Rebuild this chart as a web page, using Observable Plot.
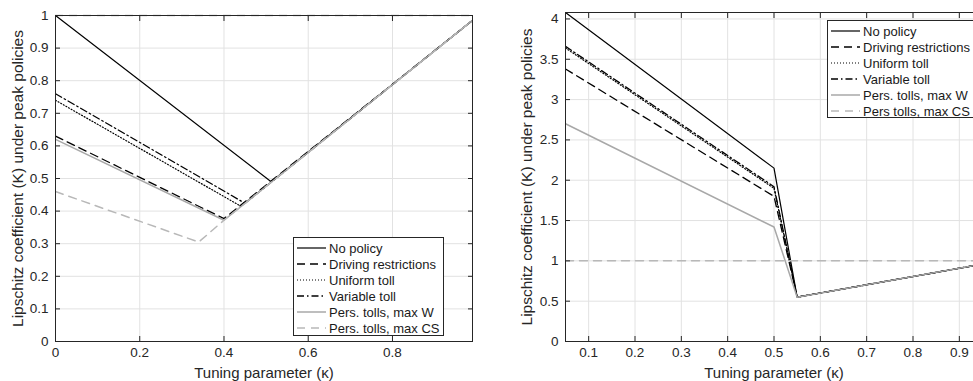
<!DOCTYPE html>
<html><head><meta charset="utf-8">
<script src="https://cdn.jsdelivr.net/npm/d3@7"></script>
<script src="https://cdn.jsdelivr.net/npm/@observablehq/plot@0.6"></script>
<style>
body{margin:0;background:#fff;}
#wrap{position:relative;width:973px;height:381px;overflow:hidden;font-family:"Liberation Sans",Arial,sans-serif;}
.panel{position:absolute;top:0;}
.legend{position:absolute;border:1px solid #262626;background:#fff;box-sizing:border-box;font-size:13px;color:#1a1a1a;padding-top:2px;}
.row{display:flex;align-items:center;height:16px;white-space:nowrap;}
.row svg{margin:0 3px 0 3px;flex:none;}
</style></head><body><div id="wrap"></div>
<script>
// ---------- data ----------
const seriesLeft  = ["No policy","Driving restrictions","Uniform toll","Variable toll","Pers. tolls, max W","Pers. tolls, max CS"];
const seriesRight = ["No policy","Driving restrictions","Uniform toll","Variable toll","Pers. tolls, max W","Pers tolls, max CS"];

// left panel: kappa breakpoints and K values per series
const leftNoPolicyK   = [0, 0.512, 0.99];
const leftNoPolicyV   = [1.0, 0.49, 0.985];
const leftDrivingK    = [0, 0.40, 0.99];
const leftDrivingV    = [0.63, 0.377, 0.985];
const leftUniformK    = [0, 0.44, 0.99];
const leftUniformV    = [0.74, 0.415, 0.985];
const leftVariableK   = [0, 0.45, 0.99];
const leftVariableV   = [0.76, 0.424, 0.985];
const leftMaxWK       = [0, 0.40, 0.99];
const leftMaxWV       = [0.62, 0.372, 0.985];
const leftMaxCSK      = [0, 0.34, 0.40, 0.99];
const leftMaxCSV      = [0.46, 0.305, 0.372, 0.985];
const leftRefK        = [1];

// right panel
const rightNoPolicyK  = [0.05, 0.50, 0.55, 0.95];
const rightNoPolicyV  = [4.08, 2.15, 0.55, 0.96];
const rightDrivingK   = [0.05, 0.50, 0.55, 0.95];
const rightDrivingV   = [3.38, 1.80, 0.55, 0.96];
const rightUniformK   = [0.05, 0.50, 0.55, 0.95];
const rightUniformV   = [3.64, 1.90, 0.55, 0.96];
const rightVariableK  = [0.05, 0.50, 0.55, 0.95];
const rightVariableV  = [3.66, 1.92, 0.55, 0.96];
const rightMaxWK      = [0.05, 0.50, 0.55, 0.95];
const rightMaxWV      = [2.70, 1.42, 0.55, 0.96];
const rightMaxCSK     = [0.05, 0.95];
const rightMaxCSV     = [1.0, 1.0];

// ticks
const leftXTicks  = [0, 0.2, 0.4, 0.6, 0.8];
const leftYTicks  = [0, 0.1, 0.2, 0.3, 0.4, 0.5, 0.6, 0.7, 0.8, 0.9, 1];
const rightXTicks = [0.1, 0.2, 0.3, 0.4, 0.5, 0.6, 0.7, 0.8, 0.9];
const rightYTicks = [0, 0.5, 1, 1.5, 2, 2.5, 3, 3.5, 4];
const xLabel = "Tuning parameter (κ)";
const yLabel = "Lipschitz coefficient (K) under peak policies";

// ---------- styles ----------
const styles = [
  {stroke:"#000", dash:null, w:1.2},
  {stroke:"#000", dash:"8,5", w:1.3},
  {stroke:"#000", dash:"1,2", w:1.2},
  {stroke:"#000", dash:"7,3,1.5,3", w:1.3},
  {stroke:"#a8a8a8", dash:null, w:1.5},
  {stroke:"#b8b8b8", dash:"8,6", w:1.5}
];
const ink = "#262626";

function rows(k, v){ return k.map((x,i)=>({k:x, v:v[i]})); }

const leftData = [
  rows(leftNoPolicyK, leftNoPolicyV), rows(leftDrivingK, leftDrivingV),
  rows(leftUniformK, leftUniformV), rows(leftVariableK, leftVariableV),
  rows(leftMaxWK, leftMaxWV), rows(leftMaxCSK, leftMaxCSV)
];
const rightData = [
  rows(rightNoPolicyK, rightNoPolicyV), rows(rightDrivingK, rightDrivingV),
  rows(rightUniformK, rightUniformV), rows(rightVariableK, rightVariableV),
  rows(rightMaxWK, rightMaxWV), rows(rightMaxCSK, rightMaxCSV)
];

function panel({data, xTicks, yTicks, xDomain, yDomain, width, marginLeft, marginRight, marginTop, extra, ylabDx}) {
  const lines = data.map((d,i)=>Plot.line(d, {x:"k", y:"v", stroke:styles[i].stroke, strokeWidth:styles[i].w,
    strokeDasharray:styles[i].dash ?? undefined, strokeLinejoin:"miter", clip:true}));
  return Plot.plot({
    width, height:381, marginLeft, marginRight, marginTop, marginBottom:40,
    style:{fontFamily:'"Liberation Sans", Arial, sans-serif', fontSize:"13.5px", color:ink, background:"#fff"},
    x:{domain:xDomain, ticks:xTicks},
    y:{domain:yDomain, ticks:yTicks},
    marks:[
      Plot.gridX(xTicks, {stroke:"#e2e2e2", strokeOpacity:1}),
      Plot.gridY(yTicks, {stroke:"#e2e2e2", strokeOpacity:1}),
      ...extra,
      ...lines,
      Plot.frame({stroke:ink, strokeWidth:1}),
      Plot.axisX(xTicks, {anchor:"bottom", tickSize:-5, tickPadding:11, label:null, tickFormat:d=>String(d), stroke:ink}),
      Plot.axisX(xTicks, {anchor:"top", tickSize:-5, label:null, tickFormat:()=>"", stroke:ink}),
      Plot.axisY(yTicks, {anchor:"left", tickSize:-5, tickPadding:12, label:null, tickFormat:d=>String(d), stroke:ink}),
      Plot.axisY(yTicks, {anchor:"right", tickSize:-5, label:null, tickFormat:()=>"", stroke:ink}),
      Plot.text([xLabel], {text:d=>d, frameAnchor:"bottom", dy:32, lineAnchor:"middle", textAnchor:"middle", fontSize:15, fill:ink}),
      Plot.text([yLabel], {text:d=>d, frameAnchor:"left", dx:ylabDx, rotate:-90, lineAnchor:"middle", textAnchor:"middle", fontSize:15.5, fill:ink})
    ]
  });
}

const wrap = document.getElementById("wrap");

const left = panel({data:leftData, xTicks:leftXTicks, yTicks:leftYTicks, xDomain:[0,0.99], yDomain:[0,1],
  width:480, marginLeft:55, marginRight:8, marginTop:15, ylabDx:-37,
  extra:[Plot.ruleY(leftRefK, {stroke:styles[5].stroke, strokeWidth:1.5, strokeDasharray:styles[5].dash})]});
left.classList.add("panel"); left.style.left="0px";
wrap.appendChild(left);

const right = panel({data:rightData, xTicks:rightXTicks, yTicks:rightYTicks, xDomain:[0.05,0.95], yDomain:[0,4.08],
  width:502, marginLeft:85, marginRight:0, marginTop:12, ylabDx:-38, extra:[]});
right.classList.add("panel"); right.style.left="480px";
wrap.appendChild(right);

function legend(labels, left, top, width, height){
  const box = document.createElement("div");
  box.className = "legend";
  Object.assign(box.style, {left:left+"px", top:top+"px", width:width+"px", height:height+"px"});
  labels.forEach((lab,i)=>{
    const r = document.createElement("div"); r.className="row";
    const s = styles[i];
    r.innerHTML = `<svg width="29" height="6"><line x1="0" x2="29" y1="3" y2="3" stroke="${s.stroke}" stroke-width="${s.w}" ${s.dash?`stroke-dasharray="${s.dash}"`:""}/></svg><span>${lab}</span>`;
    box.appendChild(r);
  });
  wrap.appendChild(box);
}
legend(seriesLeft, 293, 237, 151, 99);
legend(seriesRight, 827, 20, 150, 98);
</script></body></html>
